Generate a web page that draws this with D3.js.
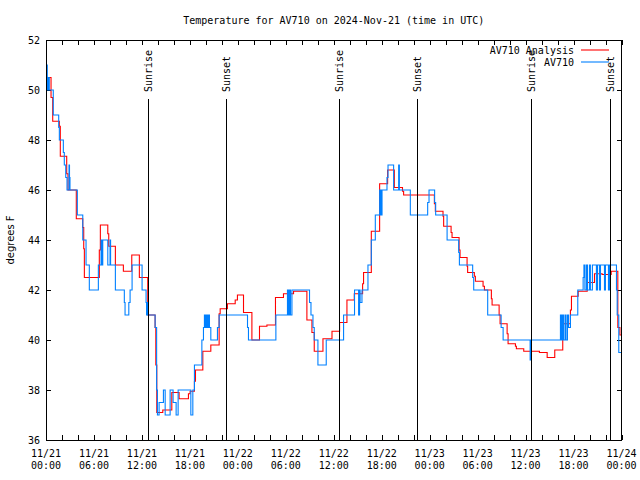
<!DOCTYPE html>
<html><head><meta charset="utf-8">
<script src="https://cdn.jsdelivr.net/npm/d3@7"></script>
<style>body{margin:0;background:#fff} svg{display:block}</style>
</head><body><svg id="c" width="640" height="480"></svg>
<script>
const titleText = "Temperature for AV710 on 2024-Nov-21 (time in UTC)";
const yLabelText = "degrees F";
const seriesNames = ["AV710 Analysis", "AV710"];
const seriesColors = ["#ff0000", "#0080ff"];
const startDate = "2024-11-21T00:00:00Z";
const yTickValues = [36, 38, 40, 42, 44, 46, 48, 50, 52];
const xMajorHours = [0, 6, 12, 18, 24, 30, 36, 42, 48, 54, 60, 66, 72];
const xMinorHours = [2, 4, 8, 10, 14, 16, 20, 22, 26, 28, 32, 34, 38, 40, 44, 46, 50, 52, 56, 58, 62, 64, 68, 70];
const sunHours = [12.7, 22.5, 36.68, 46.45, 60.72, 70.5];
const sunLabels = ["Sunrise", "Sunset", "Sunrise", "Sunset", "Sunrise", "Sunset"];

// AV710 Analysis (hours after start, deg F)
const analysisHours = [0,0.63,0.84,1.67,1.79,2.59,2.75,3.79,4.6,4.72,4.8,6.67,6.8,7.73,7.85,8.68,9.68,10.73,11.68,12.73,13.65,13.74,13.86,14.61,15.74,16.65,17.82,18.03,18.57,18.7,19.62,20.62,21.66,21.79,22.7,23.67,23.95,24.71,25.76,26.71,27.64,28.71,29.71,30.97,32.64,33.27,33.56,34.65,35.78,36.73,37.65,38.57,39.61,39.73,40.7,41.74,42.74,43.58,44.6,44.74,48.59,48.71,49.67,49.75,50.68,50.8,51.68,51.8,52.68,52.75,53.59,53.72,54.68,54.85,55.72,55.81,56.69,56.81,57.69,57.81,58.73,58.85,59.77,61.73,62.7,63.65,64.65,65.61,65.74,66.58,67.71,68.62,69.58,70.71,71.54,71.8,72];
const analysisTemps = [50.5,49.7,48.75,48.55,47.35,46.65,46.0,44.85,44.5,43.65,42.5,43.6,44.6,44.25,43.75,43.0,42.75,43.4,42.5,41.0,40.5,39.0,37.1,37.2,37.9,37.65,37.85,37.95,38.35,38.8,39.55,39.8,41.05,41.25,41.45,41.6,41.8,41.1,40.0,40.55,40.6,41.7,41.85,41.95,40.8,40.3,39.55,40.05,40.35,40.7,41.6,41.85,42.25,42.7,44.35,46.25,46.8,46.1,45.95,45.8,45.45,45.15,44.95,44.55,44.3,44.1,43.6,43.3,42.95,42.7,42.55,42.35,42.15,42.0,41.65,41.4,41.0,40.65,40.25,39.85,39.75,39.65,39.55,39.5,39.3,39.6,40.65,41.2,41.75,41.95,42.3,42.65,42.62,42.75,40.5,40.2,40.2];

// AV710 observations (hours after start, deg F)
const obsHours = [0,0.09,0.16,0.29,0.41,0.91,1.59,1.67,2.17,2.29,2.47,2.63,2.88,2.94,3.0,3.92,4.6,5.01,5.42,6.55,6.89,6.97,7.1,7.73,8.01,8.08,8.68,9.8,9.89,10.36,10.52,10.77,12.02,12.52,12.58,12.65,12.71,13.65,13.84,13.94,14.15,14.69,14.91,15.53,15.9,16.28,16.53,18.12,18.37,18.57,19.5,19.7,19.82,19.95,20.07,20.2,20.33,20.45,20.62,21.45,21.66,25.21,25.33,28.76,30.21,30.34,30.47,30.59,30.77,32.97,33.15,33.4,33.56,34.02,35.06,37.23,38.6,39.11,39.23,39.3,39.53,40.28,40.7,41.2,41.74,41.8,41.89,41.95,42.04,42.66,42.79,43.49,44.12,44.21,45.58,47.75,47.92,48.62,48.75,50.18,51.63,51.72,53.38,53.51,55.26,56.94,57.19,60.57,60.69,64.36,64.49,64.61,64.74,64.93,65.06,65.24,65.37,65.61,66.53,67.2,67.3,67.42,67.61,67.74,67.99,68.11,68.36,68.86,68.99,69.24,69.37,69.87,69.99,70.37,70.49,71.37,71.46,71.66,72];
const obsTemps = [50.0,51.0,50.0,50.5,50.0,49.0,48.5,48.0,47.5,47.0,46.5,46.0,47.0,46.5,46.0,45.0,44.0,43.0,42.0,43.0,44.0,43.0,44.0,43.0,44.0,43.0,42.0,41.5,41.0,41.5,42.0,43.0,42.0,41.5,41.0,41.5,41.0,40.5,38.0,37.0,37.5,38.0,37.0,38.0,37.5,37.0,38.0,37.0,38.0,39.0,40.0,40.5,41.0,40.5,41.0,40.5,41.0,40.5,40.0,40.5,41.0,40.5,40.0,41.0,42.0,41.0,42.0,41.0,42.0,41.5,41.0,40.5,40.0,39.0,40.0,41.0,42.0,41.0,42.0,41.5,42.0,43.0,44.0,45.0,46.0,45.0,46.0,45.0,46.0,46.5,47.0,46.0,47.0,46.0,45.0,45.5,46.0,45.5,45.0,44.0,43.5,43.0,42.5,42.0,41.0,40.5,40.0,39.2,40.0,41.0,40.0,41.0,40.0,41.0,40.0,41.0,40.5,41.0,42.0,42.5,43.0,42.0,43.0,42.0,43.0,42.0,43.0,42.0,43.0,42.0,43.0,42.0,43.0,42.0,43.0,42.0,41.0,39.5,39.5];

const svg = d3.select("#c");
const L = 46, R = 621.5, T = 40, B = 440;
const FONT = "'DejaVu Sans Mono', 'Liberation Mono', monospace";
const t0 = new Date(startDate);
const hToDate = h => new Date(t0.getTime() + h * 3600000);

const x = d3.scaleUtc().domain([hToDate(0), hToDate(72)]).range([L, R]);
const y = d3.scaleLinear().domain([36, 52]).range([B, T]);

svg.append("rect").attr("width", 640).attr("height", 480).attr("fill", "#fff");

// x axis ticks (inward, bottom and top)
const ax = svg.append("g").attr("shape-rendering", "crispEdges").attr("stroke", "#000");
xMajorHours.concat(xMinorHours).forEach(h => {
  const xx = Math.round(x(hToDate(h))) + 0.5;
  ax.append("line").attr("x1", xx).attr("x2", xx).attr("y1", B).attr("y2", B - 5);
  ax.append("line").attr("x1", xx).attr("x2", xx).attr("y1", T).attr("y2", T + 5);
});
yTickValues.forEach(v => {
  const yy = Math.round(y(v)) + 0.5;
  ax.append("line").attr("x1", L).attr("x2", L + 5).attr("y1", yy).attr("y2", yy);
  ax.append("line").attr("x1", R).attr("x2", R - 5).attr("y1", yy).attr("y2", yy);
});

// x tick labels
const fmtD = d3.utcFormat("%m/%d"), fmtT = d3.utcFormat("%H:%M");
const xl = svg.append("g").attr("font-family", FONT).attr("font-size", 10).attr("text-anchor", "middle").attr("fill", "#000");
xMajorHours.forEach(h => {
  const d = hToDate(h);
  const t = xl.append("text").attr("x", x(d));
  t.append("tspan").attr("x", x(d)).attr("y", 456.5).text(fmtD(d));
  t.append("tspan").attr("x", x(d)).attr("y", 468.5).text(fmtT(d));
});
// y tick labels
const yl = svg.append("g").attr("font-family", FONT).attr("font-size", 10).attr("text-anchor", "end").attr("fill", "#000");
yTickValues.forEach(v => {
  yl.append("text").attr("x", 40).attr("y", y(v) + 4).text(v);
});

// y axis label
svg.append("text").attr("transform", "translate(14,240) rotate(-90)")
  .attr("text-anchor", "middle").attr("font-family", "'DejaVu Sans', sans-serif").attr("font-size", 10)
  .text(yLabelText);

// title
svg.append("text").attr("x", (L + R) / 2).attr("y", 24).attr("text-anchor", "middle")
  .attr("font-family", FONT).attr("font-size", 10).text(titleText);

// data lines
const line = d3.line().curve(d3.curveStepAfter).x(d => x(hToDate(d[0]))).y(d => y(d[1]));
const aData = analysisHours.map((h, i) => [h, analysisTemps[i]]);
const oData = obsHours.map((h, i) => [h, obsTemps[i]]);
svg.append("path").datum(aData).attr("d", line).attr("fill", "none").attr("stroke", seriesColors[0]).attr("stroke-width", 1.1);
svg.append("path").datum(oData).attr("d", line).attr("fill", "none").attr("stroke", seriesColors[1]).attr("stroke-width", 1.1);

// sunrise / sunset markers
const sg = svg.append("g");
sunHours.forEach((h, i) => {
  const xx = Math.round(x(hToDate(h))) + 0.5;
  sg.append("line").attr("x1", xx).attr("x2", xx).attr("y1", 99).attr("y2", B)
    .attr("stroke", "#000").attr("shape-rendering", "crispEdges");
  sg.append("text").attr("transform", `translate(${xx + 3.5},92) rotate(-90)`)
    .attr("font-family", FONT).attr("font-size", 10).attr("text-anchor", "start").text(sunLabels[i]);
});

// frame
svg.append("rect").attr("x", L + 0.5).attr("y", T + 0.5).attr("width", R - L - 1).attr("height", B - T)
  .attr("fill", "none").attr("stroke", "#000").attr("shape-rendering", "crispEdges");

// legend
const lg = svg.append("g").attr("font-family", FONT).attr("font-size", 10);
seriesNames.forEach((n, i) => {
  const ly = 50 + i * 12;
  lg.append("text").attr("x", 574).attr("y", ly + 4).attr("text-anchor", "end").text(n);
  lg.append("line").attr("x1", 581).attr("x2", 609).attr("y1", ly).attr("y2", ly)
    .attr("stroke", seriesColors[i]).attr("stroke-width", 1.1);
});
</script></body></html>
